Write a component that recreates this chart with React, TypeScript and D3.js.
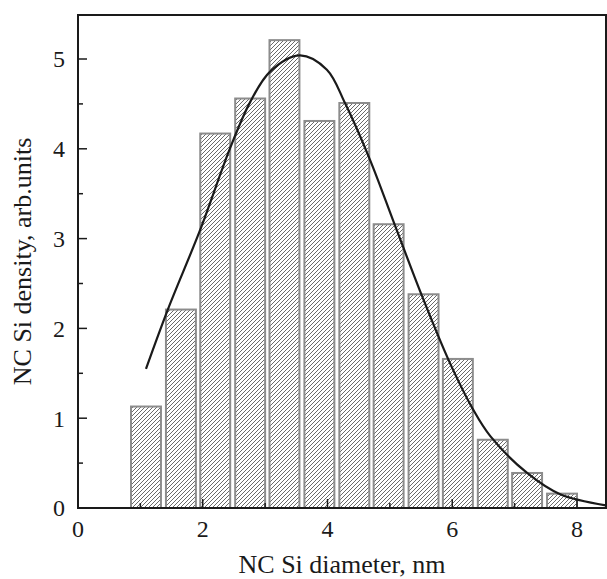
import React from "react";
import * as d3 from "d3";

const binCenters = [1.09, 1.65, 2.2, 2.76, 3.31, 3.87, 4.43, 4.98, 5.54, 6.09, 6.65, 7.2, 7.76];
const binDensity = [1.13, 2.21, 4.17, 4.56, 5.21, 4.31, 4.51, 3.16, 2.38, 1.66, 0.76, 0.39, 0.16];
const binWidth = 0.48;

const fitX = [1.09, 1.44, 1.96, 2.44, 2.76, 3.08, 3.56, 3.99, 4.28, 4.68, 5.08, 5.51, 5.94, 6.34, 6.61, 7.2, 7.73, 8.46];
const fitY = [1.55, 2.21, 3.1, 4.01, 4.52, 4.86, 5.04, 4.88, 4.51, 3.88, 3.15, 2.37, 1.65, 1.09, 0.8, 0.39, 0.153, 0.03];

const xMajor = [0, 2, 4, 6, 8];
const xMinor = [1, 3, 5, 7];
const yMajor = [0, 1, 2, 3, 4, 5];
const yMinor = [0.5, 1.5, 2.5, 3.5, 4.5];

const xTitle = "NC Si diameter, nm";
const yTitle = "NC Si density, arb.units";

export default function App() {
  const W = 607, H = 579;
  const L = 78, R = 606, T = 15, B = 508;
  const x = d3.scaleLinear().domain([0, 8.465]).range([L, R]);
  const y = d3.scaleLinear().domain([0, 5.49]).range([B, T]);
  const line = d3
    .line<number>()
    .x((_, i) => x(fitX[i]))
    .y((d) => y(d))
    .curve(d3.curveCatmullRom.alpha(0.5));
  const font = "'Liberation Serif', 'Times New Roman', serif";
  return (
    <svg
      width={W}
      height={H}
      style={{ position: "absolute", left: 0, top: 0, background: "#fff" }}
    >
      <defs>
        <pattern id="hatch" patternUnits="userSpaceOnUse" width={4} height={4}>
          <rect width={4} height={4} fill="#fff" />
          <path d="M-1,1 L1,-1 M0,4 L4,0 M3,5 L5,3" stroke="#2a2a2a" strokeWidth={0.7} />
        </pattern>
      </defs>
      {binCenters.map((c, i) => (
        <rect
          key={i}
          x={x(c - binWidth / 2)}
          y={y(binDensity[i])}
          width={x(c + binWidth / 2) - x(c - binWidth / 2)}
          height={y(0) - y(binDensity[i])}
          fill="url(#hatch)"
          stroke="#8c8c8c"
          strokeWidth={2}
        />
      ))}
      <path d={line(fitY) || ""} fill="none" stroke="#1a1a1a" strokeWidth={2.2} />
      <rect x={L} y={T} width={R - L} height={B - T} fill="none" stroke="#1a1a1a" strokeWidth={2} />
      {yMajor.map((v) => (
        <g key={"ym" + v}>
          <line x1={L} x2={L + 9} y1={y(v)} y2={y(v)} stroke="#1a1a1a" strokeWidth={1.5} />
          <text x={L - 13} y={y(v)} dy="0.35em" textAnchor="end" fontFamily={font} fontSize={24} fill="#1a1a1a">
            {v}
          </text>
        </g>
      ))}
      {yMinor.map((v) => (
        <line key={"yn" + v} x1={L} x2={L + 5} y1={y(v)} y2={y(v)} stroke="#1a1a1a" strokeWidth={1.5} />
      ))}
      {xMajor.map((v) => (
        <g key={"xm" + v}>
          {v > 0 && <line x1={x(v)} x2={x(v)} y1={B} y2={B - 9} stroke="#1a1a1a" strokeWidth={1.5} />}
          <text x={x(v)} y={537} textAnchor="middle" fontFamily={font} fontSize={24} fill="#1a1a1a">
            {v}
          </text>
        </g>
      ))}
      {xMinor.map((v) => (
        <line key={"xn" + v} x1={x(v)} x2={x(v)} y1={B} y2={B - 5} stroke="#1a1a1a" strokeWidth={1.5} />
      ))}
      <text x={(L + R) / 2} y={573} textAnchor="middle" fontFamily={font} fontSize={26} fill="#1a1a1a">
        {xTitle}
      </text>
      <text
        transform={`translate(22,${(T + B) / 2}) rotate(-90)`}
        dy="0.35em"
        textAnchor="middle"
        fontFamily={font}
        fontSize={26}
        fill="#1a1a1a"
      >
        {yTitle}
      </text>
    </svg>
  );
}
